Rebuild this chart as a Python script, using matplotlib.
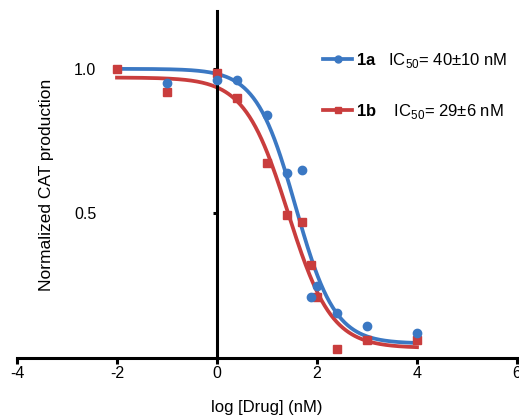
import numpy as np
import matplotlib
matplotlib.use("Agg")
import matplotlib.pyplot as plt
from matplotlib.lines import Line2D

plt.rcParams['font.family'] = ['Liberation Sans', 'DejaVu Sans']
plt.rcParams['mathtext.fontset'] = 'custom'
plt.rcParams['mathtext.rm'] = 'Liberation Sans'
plt.rcParams['mathtext.bf'] = 'Liberation Sans:bold'

# Data (log10 nM concentration)
x_1a = [-1, 0, 0.4, 1.0, 1.4, 1.7, 1.88, 2.0, 2.4, 3.0, 4.0]
y_1a = [0.95, 0.96, 0.96, 0.84, 0.64, 0.65, 0.21, 0.25, 0.155, 0.11, 0.085]
x_1b = [-2, -1, 0, 0.4, 1.0, 1.4, 1.7, 1.88, 2.0, 2.4, 3.0, 4.0]
y_1b = [1.0, 0.92, 0.985, 0.90, 0.675, 0.495, 0.47, 0.32, 0.21, 0.03, 0.062, 0.062]

# Fit parameters (top, bottom, logIC50, hill slope)
fit_1a = (1.0, 0.05, 1.57, 1.1)
fit_1b = (0.97, 0.035, 1.42, 1.0)
fit_range = (-2, 4)

labels = [r"$\mathbf{1a}$   IC$_{50}$= 40±10 nM", r"$\mathbf{1b}$    IC$_{50}$= 29±6 nM"]
blue = '#3B78C3'
red = '#C93D3D'

def hill(x, top, bottom, c, h):
    return bottom + (top - bottom) / (1 + 10 ** ((x - c) * h))

fig = plt.figure(figsize=(5.19, 4.16), dpi=100)
ax = fig.add_axes([17/519, (416-358)/416, 500/519, 347/416])

xx = np.linspace(fit_range[0], fit_range[1], 300)
ax.plot(xx, hill(xx, *fit_1b), color=red, lw=2.7, zorder=2)
ax.plot(xx, hill(xx, *fit_1a), color=blue, lw=2.7, zorder=3)
ax.plot(x_1b, y_1b, 's', color=red, ms=6, zorder=4)
ax.plot(x_1a, y_1a, 'o', color=blue, ms=6, zorder=5)

ax.set_xlim(-4, 6)
ax.set_ylim(0, 1.2)
ax.spines['left'].set_position(('data', 0))
ax.spines['bottom'].set_position(('data', 0))
ax.spines['top'].set_visible(False)
ax.spines['right'].set_visible(False)
for s in ('left', 'bottom'):
    ax.spines[s].set_linewidth(2.2)
ax.set_xticks([-4, -2, 0, 2, 4, 6])
ax.set_xticklabels(['-4', '-2', '0', '2', '4', '6'])
ax.set_yticks([0.5, 1.0])
ax.set_yticklabels(['0.5', '1.0'])
ax.tick_params(axis='x', direction='out', length=4, width=2.2, labelsize=11.5, pad=2)
ax.tick_params(axis='y', direction='out', length=3, width=2.2, labelsize=11.5, pad=84)
ax.set_xlabel('log [Drug] (nM)', fontsize=12)
ax.xaxis.set_label_coords(0.5, -0.12)
ax.set_ylabel('Normalized CAT production', fontsize=12.5)
ax.yaxis.set_label_coords(0.074, 0.5)

handles = [Line2D([0], [0], color=blue, lw=2.7, marker='o', ms=5),
           Line2D([0], [0], color=red, lw=2.7, marker='s', ms=5)]
leg = ax.legend(handles, labels, loc='upper left', bbox_to_anchor=(0.612, 0.885),
                frameon=False, fontsize=12, handlelength=1.75, handletextpad=0.2,
                labelspacing=1.9, borderpad=0, borderaxespad=0)
leg.set_clip_on(False)

fig.savefig('out.png', dpi=100)
